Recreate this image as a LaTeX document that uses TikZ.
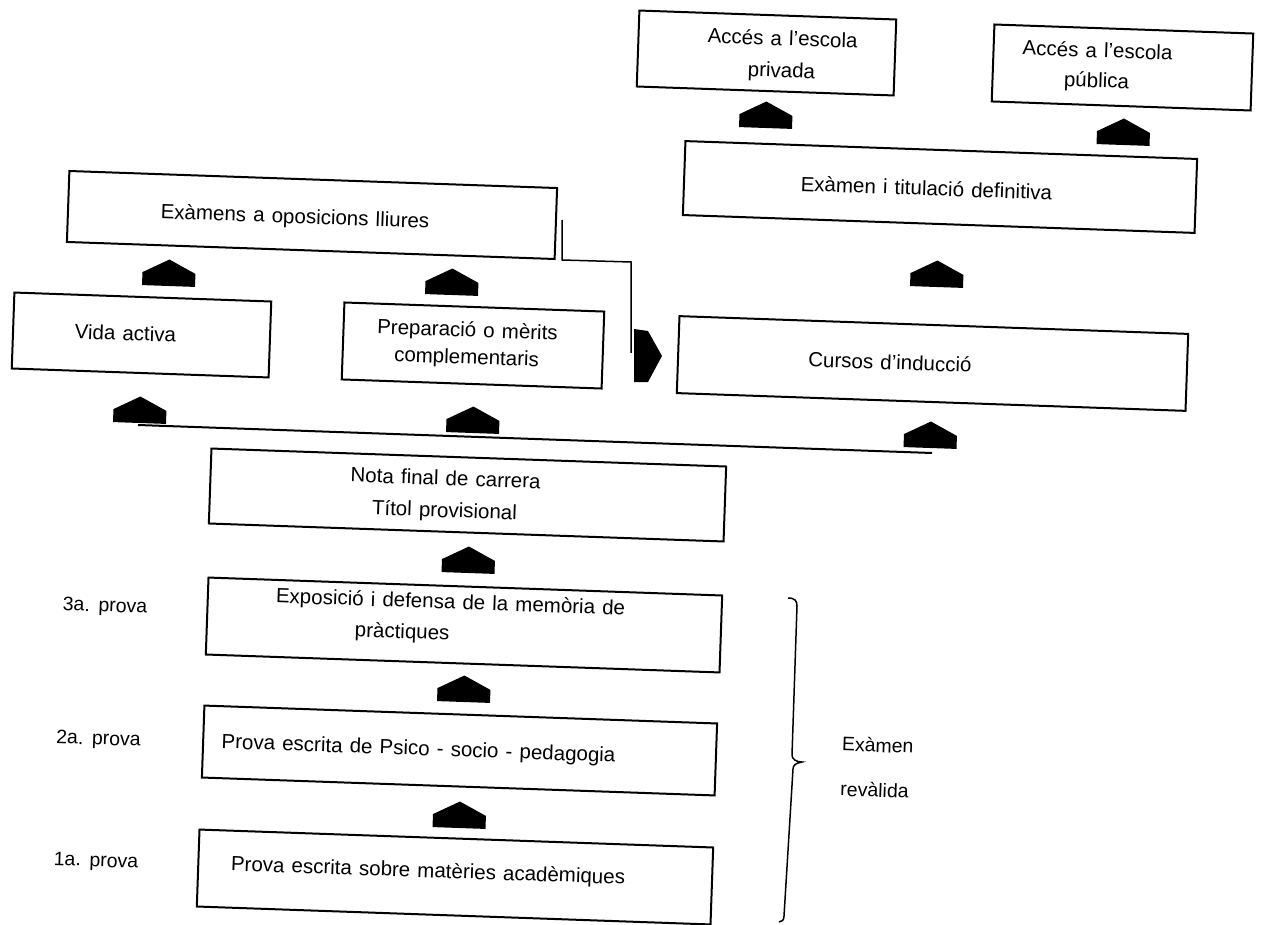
\documentclass[tikz,border=0pt]{standalone}
\usepackage{fontspec}
\setmainfont{Liberation Sans}[WordSpace=1.25]
\begin{document}
\begin{tikzpicture}[x=1pt,y=-1pt,
  box/.style={draw, line width=2pt, rotate=-2, inner sep=0pt},
  lbl/.style={font=\fontsize{20.5}{32}\selectfont, rotate=-2, inner sep=0pt, align=center},
  side/.style={font=\fontsize{19.5}{24}\selectfont, rotate=-2, inner sep=0pt, align=left},
  conn/.style={line width=1.5pt},
  uparr/.pic={\fill (-26.5,0) -- (-26.5,-13) -- (0,-26.5) -- (26.5,-13) -- (26.5,0) -- cycle;},
]
\useasboundingbox (0,0) rectangle (1264,925);

% boxes
\node[box, minimum width=257pt, minimum height=76pt] (priv) at (766.5,53) {};
\node[box, minimum width=259pt, minimum height=77pt] (pub) at (1122.5,67.5) {};
\node[box, minimum width=512pt, minimum height=74pt] (exdef) at (940,187) {};
\node[box, minimum width=488pt, minimum height=71pt] (exop) at (312,215) {};
\node[box, minimum width=257pt, minimum height=76pt] (vida) at (141.5,335) {};
\node[box, minimum width=260pt, minimum height=77pt] (prep) at (473,345.5) {};
\node[box, minimum width=509pt, minimum height=77pt] (cursos) at (932.5,363.5) {};
\node[box, minimum width=515pt, minimum height=75pt] (nota) at (467.5,495) {};
\node[box, minimum width=514pt, minimum height=77pt] (p3) at (464,625) {};
\node[box, minimum width=513pt, minimum height=72pt] (p2) at (459.5,750.5) {};
\node[box, minimum width=514pt, minimum height=77pt] (p1) at (455,877) {};

% texts
\node[lbl] (privt) at (782,56) {Accés a l’escola\\privada};
\node[lbl] (pubt) at (1097,67) {Accés a l’escola\\[-2pt]pública};
\node[lbl] (exdeft) at (926.5,188) {Exàmen i titulació definitiva};
\node[lbl] (exopt) at (295,218) {Exàmens a oposicions lliures};
\node[lbl] (vidat) at (125.5,333) {Vida activa};
\node[lbl] (prept) at (467,345) {Preparació o mèrits\\[-5pt]complementaris};
\node[lbl] (cursost) at (890,362) {Cursos d’inducció};
\node[lbl] (notat) at (445,496) {Nota final de carrera\\Títol provisional};
\node[lbl, align=left] (p3t) at (450,619) {Exposició i defensa de la memòria de\\[-1pt]\hspace*{80pt}pràctiques};
\node[lbl] (p2t) at (418.5,750) {Prova escrita de Psico - socio - pedagogia};
\node[lbl] (p1t) at (428,872) {Prova escrita sobre matèries acadèmiques};

\node[side] (s3) at (105,607) {3a. prova};
\node[side] (s2) at (98.5,740) {2a. prova};
\node[side] (s1) at (96,862) {1a. prova};
\node[side, font=\fontsize{19.5}{45}\selectfont] (rev) at (877,767.5) {Exàmen\\revàlida};

% block arrows
\pic[rotate=-2] at (765.5,128) {uparr};
\pic[rotate=-2] at (1123,145) {uparr};
\pic[rotate=-2] at (936.5,287) {uparr};
\pic[rotate=-2] at (168.5,286) {uparr};
\pic[rotate=-2] at (451.5,295) {uparr};
\pic[rotate=-2] at (139.5,423) {uparr};
\pic[rotate=-2] at (472.5,433) {uparr};
\pic[rotate=-2] at (930,448) {uparr};
\pic[rotate=-2] at (468,573) {uparr};
\pic[rotate=-2] at (463.5,702) {uparr};
\pic[rotate=-2] at (459,828) {uparr};
\coordinate (rarr) at (634,355);
\fill (634,329) -- (648,331) -- (662,356) -- (648,382) -- (634,382) -- cycle;

% connector from exams to induction
\coordinate (jA) at (562,220);
\coordinate (jB) at (631,353);
\draw[conn] (jA) -- (562,260) -- (631,262) -- (jB);

% long line
\coordinate (lL) at (138,425);
\coordinate (lR) at (932,453);
\draw[line width=2pt] (lL) -- (lR);

% brace
\draw[line width=1.5pt] (788,598) .. controls (795,598) and (797,601) .. (797,606)
  -- (792,755) .. controls (792,759) and (796,762) .. (802,762)
  .. controls (796,763) and (793,765) .. (793,769)
  -- (784,916) .. controls (784,920) and (782,922) .. (779,922);
\end{tikzpicture}
\end{document}
